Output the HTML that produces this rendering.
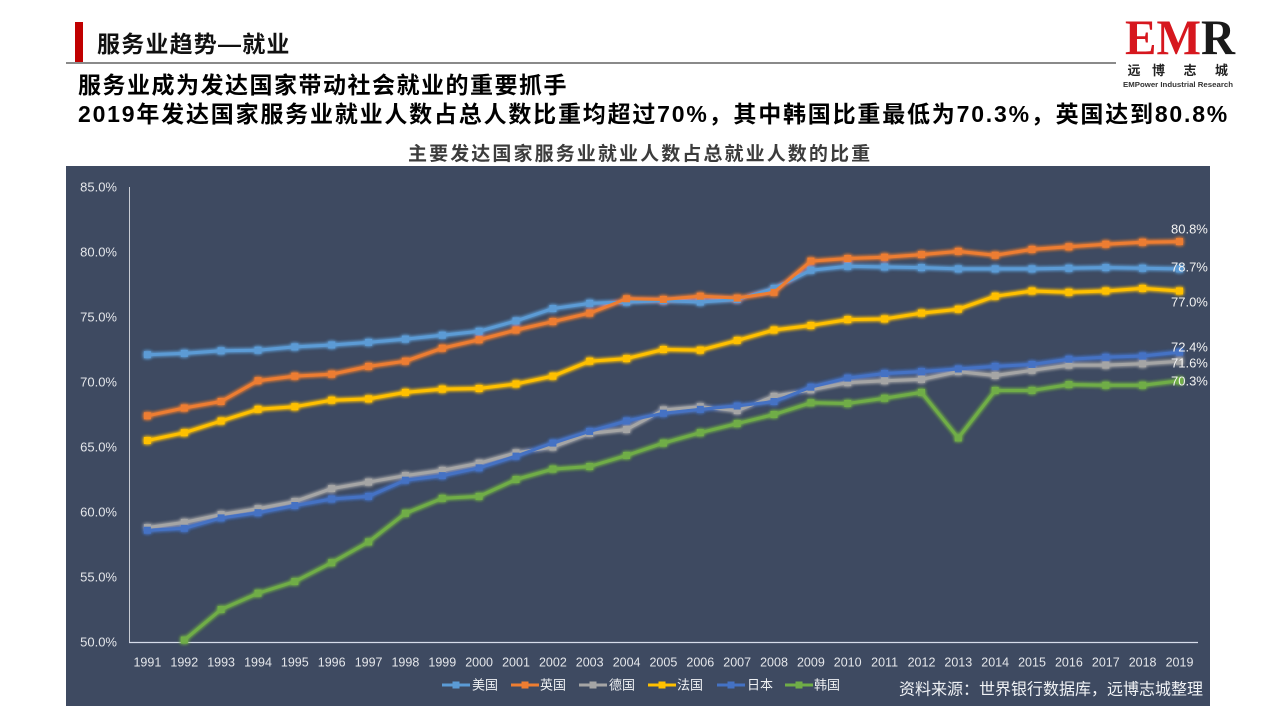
<!DOCTYPE html>
<html><head><meta charset="utf-8">
<style>
html,body{margin:0;padding:0;background:#fff;}
body{width:1280px;height:720px;position:relative;overflow:hidden;font-family:"Liberation Sans","Noto Sans CJK SC",sans-serif;}
.t{position:absolute;white-space:nowrap;font-weight:bold;color:#000;}
</style></head><body>
<div style="position:absolute;left:75px;top:22px;width:8px;height:40px;background:#c00000;"></div>
<div class="t" style="left:97px;top:33px;font-size:23px;line-height:23px;letter-spacing:1.2px;color:#111;">服务业趋势—就业</div>
<div style="position:absolute;left:66px;top:62px;width:1050px;height:2px;background:#8a8a8a;"></div>
<div class="t" style="left:78px;top:73px;font-size:23px;line-height:25px;letter-spacing:1.5px;">服务业成为发达国家带动社会就业的重要抓手</div>
<div class="t" style="left:78px;top:102px;font-size:23px;line-height:25px;letter-spacing:1.8px;">2019年发达国家服务业就业人数占总人数比重均超过70%，其中韩国比重最低为70.3%，英国达到80.8%</div>
<div class="t" style="left:408px;top:145px;font-size:19px;line-height:20px;letter-spacing:2.1px;color:#3c3c3c;">主要发达国家服务业就业人数占总就业人数的比重</div>

<svg width="1280" height="720" viewBox="0 0 1280 720" style="position:absolute;left:0;top:0;" xmlns="http://www.w3.org/2000/svg">
<defs>
<filter id="glow" x="-5%" y="-20%" width="110%" height="140%">
<feGaussianBlur in="SourceGraphic" stdDeviation="1.8" result="b"/>
<feMerge><feMergeNode in="b"/><feMergeNode in="b"/><feMergeNode in="SourceGraphic"/></feMerge>
</filter>
<marker id="mUS" markerUnits="userSpaceOnUse" markerWidth="8" markerHeight="8" refX="4" refY="4"><rect x="0.5" y="0.5" width="7" height="7" fill="#5b9bd5"/></marker>
<marker id="mUK" markerUnits="userSpaceOnUse" markerWidth="8" markerHeight="8" refX="4" refY="4"><rect x="0.5" y="0.5" width="7" height="7" fill="#ed7d31"/></marker>
<marker id="mDE" markerUnits="userSpaceOnUse" markerWidth="8" markerHeight="8" refX="4" refY="4"><rect x="0.5" y="0.5" width="7" height="7" fill="#a5a5a5"/></marker>
<marker id="mFR" markerUnits="userSpaceOnUse" markerWidth="8" markerHeight="8" refX="4" refY="4"><rect x="0.5" y="0.5" width="7" height="7" fill="#ffc000"/></marker>
<marker id="mJP" markerUnits="userSpaceOnUse" markerWidth="8" markerHeight="8" refX="4" refY="4"><rect x="0.5" y="0.5" width="7" height="7" fill="#4472c4"/></marker>
<marker id="mKR" markerUnits="userSpaceOnUse" markerWidth="8" markerHeight="8" refX="4" refY="4"><rect x="0.5" y="0.5" width="7" height="7" fill="#70ad47"/></marker>
</defs>

<!-- logo -->
<text x="1125" y="54" font-family="Liberation Serif, serif" font-size="50" font-weight="bold" textLength="110" lengthAdjust="spacingAndGlyphs"><tspan fill="#d6171e">EM</tspan><tspan fill="#1a1a1a">R</tspan></text>
<g font-family="Liberation Sans, Noto Sans CJK SC, sans-serif" font-weight="bold" font-size="13" fill="#222" text-anchor="middle">
<text x="1134" y="75">远</text><text x="1158.5" y="75">博</text><text x="1190" y="75">志</text><text x="1221.5" y="75">城</text>
</g>
<text x="1123" y="87" font-family="Liberation Sans, sans-serif" font-size="7" font-weight="bold" fill="#333" textLength="110" lengthAdjust="spacingAndGlyphs">EMPower Industrial Research</text>

<!-- panel -->
<rect x="66" y="166" width="1144" height="540" fill="#3e4a61"/>

<!-- axes -->
<line x1="129.5" y1="187" x2="129.5" y2="642" stroke="#c8ccd4" stroke-width="1"/>
<line x1="129" y1="642.5" x2="1198" y2="642.5" stroke="#d6dcea" stroke-width="1.2"/>

<g font-family="Liberation Sans, sans-serif" font-size="13" fill="#e4e6ea" text-anchor="end">
<text x="117" y="191.5">85.0%</text>
<text x="117" y="256.5">80.0%</text>
<text x="117" y="321.5">75.0%</text>
<text x="117" y="386.5">70.0%</text>
<text x="117" y="451.5">65.0%</text>
<text x="117" y="516.5">60.0%</text>
<text x="117" y="581.5">55.0%</text>
<text x="117" y="646.5">50.0%</text>
</g>

<g font-family="Liberation Sans, sans-serif" font-size="12.5" fill="#e4e6ea" text-anchor="middle">
<text x="147.4" y="666.5">1991</text><text x="184.3" y="666.5">1992</text><text x="221.1" y="666.5">1993</text><text x="258.0" y="666.5">1994</text><text x="294.8" y="666.5">1995</text><text x="331.7" y="666.5">1996</text><text x="368.6" y="666.5">1997</text><text x="405.4" y="666.5">1998</text><text x="442.3" y="666.5">1999</text><text x="479.1" y="666.5">2000</text><text x="516.0" y="666.5">2001</text><text x="552.9" y="666.5">2002</text><text x="589.7" y="666.5">2003</text><text x="626.6" y="666.5">2004</text><text x="663.4" y="666.5">2005</text><text x="700.3" y="666.5">2006</text><text x="737.2" y="666.5">2007</text><text x="774.0" y="666.5">2008</text><text x="810.9" y="666.5">2009</text><text x="847.7" y="666.5">2010</text><text x="884.6" y="666.5">2011</text><text x="921.5" y="666.5">2012</text><text x="958.3" y="666.5">2013</text><text x="995.2" y="666.5">2014</text><text x="1032.0" y="666.5">2015</text><text x="1068.9" y="666.5">2016</text><text x="1105.8" y="666.5">2017</text><text x="1142.6" y="666.5">2018</text><text x="1179.5" y="666.5">2019</text>
</g>

<g fill="none" stroke-width="3" stroke-linejoin="round" filter="url(#glow)">
<polyline stroke="#5b9bd5" marker-start="url(#mUS)" marker-mid="url(#mUS)" marker-end="url(#mUS)" points="147.4,354.7 184.3,353.4 221.1,350.8 258.0,350.2 294.8,346.9 331.7,344.95 368.6,342.35 405.4,339.1 442.3,335.2 479.1,331.3 516.0,320.9 552.9,308.55 589.7,303.35 626.6,302.05 663.4,300.75 700.3,302.05 737.2,299.45 774.0,288.4 810.9,270.2 847.7,266.3 884.6,266.95 921.5,267.6 958.3,268.9 995.2,268.9 1032.0,268.9 1068.9,268.25 1105.8,267.6 1142.6,268.25 1179.5,268.9"/>
<polyline stroke="#ed7d31" marker-start="url(#mUK)" marker-mid="url(#mUK)" marker-end="url(#mUK)" points="147.4,415.8 184.3,408 221.1,401.5 258.0,380.7 294.8,376.15 331.7,374.2 368.6,366.4 405.4,361.2 442.3,348.2 479.1,339.75 516.0,330 552.9,321.55 589.7,313.1 626.6,298.8 663.4,299.45 700.3,296.2 737.2,298.15 774.0,292.3 810.9,261.1 847.7,258.5 884.6,257.2 921.5,254.6 958.3,251.35 995.2,255.25 1032.0,249.4 1068.9,246.8 1105.8,244.2 1142.6,242.25 1179.5,241.6"/>
<polyline stroke="#a5a5a5" marker-start="url(#mDE)" marker-mid="url(#mDE)" marker-end="url(#mDE)" points="147.4,527.6 184.3,522.4 221.1,514.6 258.0,508.75 294.8,501.6 331.7,488.6 368.6,482.1 405.4,475.6 442.3,470.4 479.1,463.25 516.0,452.85 552.9,447 589.7,433.35 626.6,429.45 663.4,409.95 700.3,406.7 737.2,410.6 774.0,396.3 810.9,389.8 847.7,382.65 884.6,380.7 921.5,379.4 958.3,371.6 995.2,375.5 1032.0,370.3 1068.9,365.1 1105.8,365.1 1142.6,363.8 1179.5,361.2"/>
<polyline stroke="#ffc000" marker-start="url(#mFR)" marker-mid="url(#mFR)" marker-end="url(#mFR)" points="147.4,440.5 184.3,432.7 221.1,421 258.0,409.3 294.8,406.7 331.7,400.2 368.6,398.9 405.4,392.4 442.3,389.15 479.1,388.5 516.0,383.95 552.9,376.15 589.7,361.2 626.6,358.6 663.4,349.5 700.3,350.15 737.2,340.4 774.0,330 810.9,325.45 847.7,319.6 884.6,318.95 921.5,313.1 958.3,309.2 995.2,296.2 1032.0,291 1068.9,292.3 1105.8,291 1142.6,288.4 1179.5,291"/>
<polyline stroke="#4472c4" marker-start="url(#mJP)" marker-mid="url(#mJP)" marker-end="url(#mJP)" points="147.4,530.2 184.3,528.25 221.1,517.85 258.0,512.65 294.8,505.5 331.7,499 368.6,496.4 405.4,480.15 442.3,475.6 479.1,467.8 516.0,456.1 552.9,443.1 589.7,431.4 626.6,421 663.4,413.2 700.3,409.3 737.2,406.05 774.0,401.5 810.9,387.2 847.7,378.1 884.6,373.55 921.5,371.6 958.3,369 995.2,366.4 1032.0,364.45 1068.9,359.25 1105.8,357.3 1142.6,356 1179.5,352.1"/>
<polyline stroke="#70ad47" marker-start="url(#mKR)" marker-mid="url(#mKR)" marker-end="url(#mKR)" points="184.3,640.05 221.1,609.5 258.0,593.25 294.8,581.55 331.7,562.7 368.6,541.9 405.4,513.3 442.3,498.35 479.1,496.4 516.0,479.5 552.9,469.1 589.7,466.5 626.6,455.45 663.4,443.1 700.3,432.7 737.2,423.6 774.0,414.5 810.9,402.8 847.7,403.45 884.6,398.25 921.5,392.4 958.3,437.9 995.2,390.45 1032.0,390.45 1068.9,384.6 1105.8,385.25 1142.6,385.25 1179.5,380.7"/>
</g>

<g font-family="Liberation Sans, sans-serif" font-size="13" fill="#f2f2f2">
<text x="1171" y="233.5">80.8%</text>
<text x="1171" y="271.5">78.7%</text>
<text x="1171" y="306.5">77.0%</text>
<text x="1171" y="351.5">72.4%</text>
<text x="1171" y="367.5">71.6%</text>
<text x="1171" y="385.5">70.3%</text>
</g>

<!-- legend -->
<g stroke-width="3">
<line x1="442" y1="685" x2="470" y2="685" stroke="#5b9bd5"/><rect x="452.5" y="681.5" width="7" height="7" fill="#5b9bd5"/>
<line x1="511" y1="685" x2="539" y2="685" stroke="#ed7d31"/><rect x="521.5" y="681.5" width="7" height="7" fill="#ed7d31"/>
<line x1="579" y1="685" x2="607" y2="685" stroke="#a5a5a5"/><rect x="589.5" y="681.5" width="7" height="7" fill="#a5a5a5"/>
<line x1="648" y1="685" x2="676" y2="685" stroke="#ffc000"/><rect x="658.5" y="681.5" width="7" height="7" fill="#ffc000"/>
<line x1="717" y1="685" x2="745" y2="685" stroke="#4472c4"/><rect x="727.5" y="681.5" width="7" height="7" fill="#4472c4"/>
<line x1="785" y1="685" x2="813" y2="685" stroke="#70ad47"/><rect x="795.5" y="681.5" width="7" height="7" fill="#70ad47"/>
</g>
<g font-family="Liberation Sans, Noto Sans CJK SC, sans-serif" font-size="13" fill="#eef0f3">
<text x="472" y="689.5">美国</text>
<text x="540" y="689.5">英国</text>
<text x="609" y="689.5">德国</text>
<text x="677" y="689.5">法国</text>
<text x="747" y="689.5">日本</text>
<text x="814" y="689.5">韩国</text>
</g>
<text x="899" y="694.5" font-family="Liberation Sans, Noto Sans CJK SC, sans-serif" font-size="16" fill="#f0f2f5" textLength="304" lengthAdjust="spacingAndGlyphs">资料来源：世界银行数据库，远博志城整理</text>
</svg>
</body></html>
